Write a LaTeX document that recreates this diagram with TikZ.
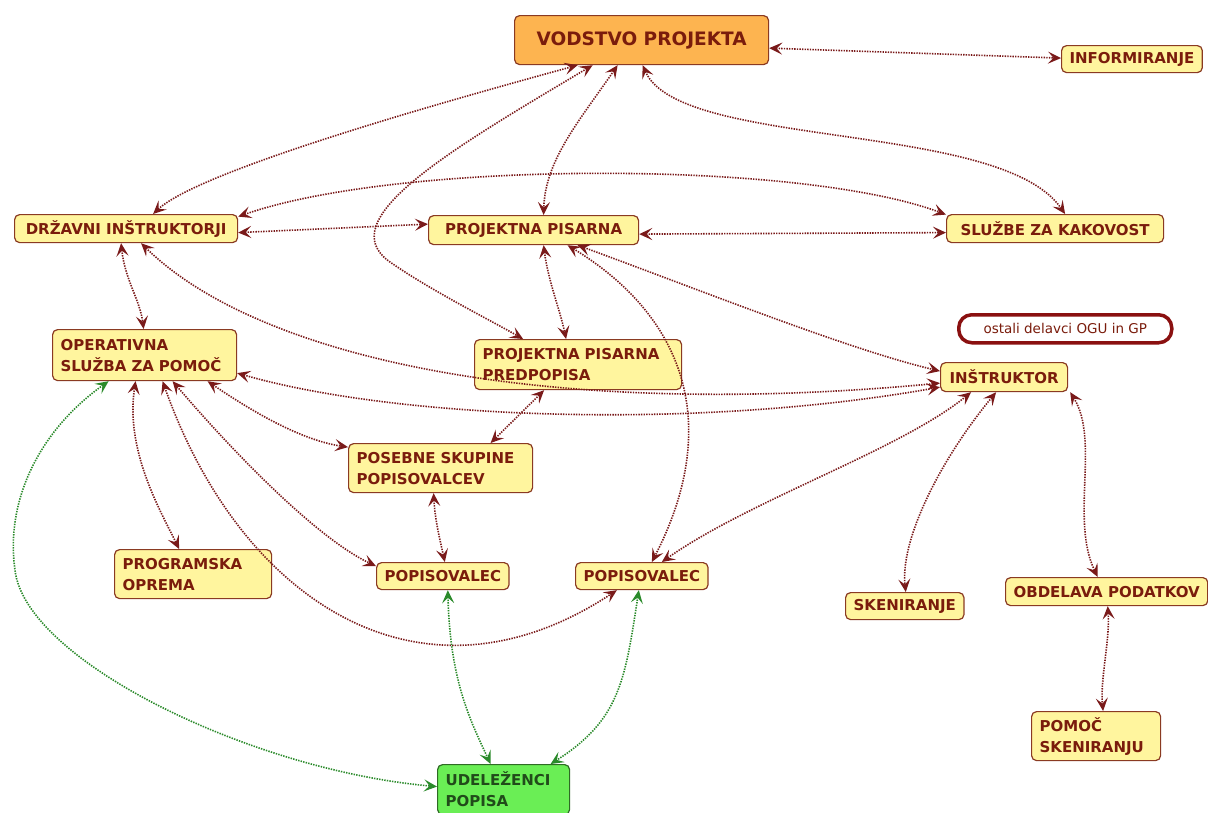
\documentclass[tikz,border=0pt]{standalone}
\usepackage{fontspec}
\setmainfont{DejaVu Sans}
\usetikzlibrary{arrows.meta,calc}

\definecolor{boxfill}{HTML}{FFF59E}
\definecolor{boxline}{HTML}{8A3A22}
\definecolor{txt}{HTML}{7A1C0C}
\definecolor{topfill}{HTML}{FDB450}
\definecolor{greenfill}{HTML}{6AEE55}
\definecolor{greenline}{HTML}{2F6B25}
\definecolor{lnk}{HTML}{7A1A1A}
\definecolor{glnk}{HTML}{2A8A2A}
\definecolor{ovalline}{HTML}{8A1010}

\tikzset{
  box/.style={draw=boxline, line width=1.2pt, rounded corners=5pt, fill=boxfill,
    text=txt, font=\bfseries\fontsize{15}{21}\selectfont,
    inner xsep=8pt, inner ysep=2pt, anchor=north west, align=left},
  topbox/.style={box, fill=topfill, font=\bfseries\fontsize{18.5}{24}\selectfont},
  greenbox/.style={box, fill=greenfill, draw=greenline, text=greenline!70!black},
  oval/.style={draw=ovalline, line width=3.5pt, rounded corners=13pt, fill=white,
    text=txt, font=\fontsize{13.5}{16}\selectfont, anchor=north west},
  link/.style={draw=lnk, line width=1.6pt, dash pattern=on 1.4pt off 1.2pt,
    >={Stealth[length=13pt,width=12pt,inset=5.5pt]}, <->},
  glink/.style={link, draw=glnk},
}

\begin{document}
\begin{tikzpicture}[x=1pt, y=-1pt]
\useasboundingbox (0,0) rectangle (1208,812);

% boxes
\node[topbox, minimum width=254pt, minimum height=49pt] (vod) at (514,15) {VODSTVO PROJEKTA};
\node[box, minimum width=140pt, minimum height=27pt] (inf) at (1061,45) {INFORMIRANJE};
\node[box, minimum width=223pt, minimum height=28pt] (dri) at (14,214) {DRŽAVNI INŠTRUKTORJI};
\node[box, minimum width=210pt, minimum height=29pt] (pp) at (428,215) {PROJEKTNA PISARNA};
\node[box, minimum width=217pt, minimum height=28pt] (szk) at (946,214) {SLUŽBE ZA KAKOVOST};
\node[oval, minimum width=213pt, minimum height=28pt] (ost) at (957,313) {ostali delavci OGU in GP};
\node[box, text width=168pt, minimum height=51pt] (ops) at (52,329) {OPERATIVNA\\SLUŽBA ZA POMOČ};
\node[box, text width=191pt, minimum height=50pt] (ppp) at (474,339) {PROJEKTNA PISARNA\\PREDPOPISA};
\node[box, minimum width=127pt, minimum height=29pt] (ins) at (940,362) {INŠTRUKTOR};
\node[box, text width=168pt, minimum height=49pt] (pos) at (348,443) {POSEBNE SKUPINE\\POPISOVALCEV};
\node[box, text width=141pt, minimum height=49pt] (pro) at (114,549) {PROGRAMSKA\\OPREMA};
\node[box, minimum width=131pt, minimum height=27pt] (pv1) at (376,562) {POPISOVALEC};
\node[box, minimum width=130pt, minimum height=27pt] (pv2) at (575,562) {POPISOVALEC};
\node[box, minimum width=117pt, minimum height=27pt] (ske) at (845,592) {SKENIRANJE};
\node[box, minimum width=202pt, minimum height=28pt] (obd) at (1005,577) {OBDELAVA PODATKOV};
\node[box, text width=113pt, minimum height=49pt] (pom) at (1031,711) {POMOČ\\SKENIRANJU};
\node[greenbox, text width=116pt, minimum height=50pt] (ude) at (437,764) {UDELEŽENCI\\POPISA};

% links from the project leadership
\draw[link] ([yshift=-8pt]vod.east) -- ([yshift=1pt]inf.west);
\draw[link] ([xshift=-64pt]vod.south) .. controls (450,100) and (200,170) .. ([xshift=27pt]dri.north);
\draw[link] ([xshift=-49pt]vod.south) .. controls (450,150) and (330,220) .. (390,262)
  .. controls (430,290) and (490,320) .. ([xshift=-55pt]ppp.north);
\draw[link] ([xshift=-24pt]vod.south) .. controls (580,120) and (545,160) .. ([xshift=10pt]pp.north);
\draw[link] ([xshift=1pt]vod.south) .. controls (680,150) and (1000,120) .. ([xshift=10pt]szk.north);

% national instructors and project office
\draw[link] ([yshift=12pt]dri.east) .. controls (400,160) and (800,160) .. ([yshift=14pt]szk.west);
\draw[link] ([yshift=-4pt]dri.east) -- ([yshift=6pt]pp.west);
\draw[link] ([yshift=-4pt]pp.east) -- ([yshift=-4pt]szk.west);
\draw[link] ([xshift=-5pt]dri.south) .. controls (125,280) and (140,300) .. ([xshift=-1pt]ops.north);
\draw[link] ([xshift=15pt]dri.south) .. controls (260,360) and (550,420) .. ([yshift=-6pt]ins.west);
\draw[link] ([yshift=-18pt]ops.east) .. controls (400,420) and (700,430) .. ([yshift=-10pt]ins.west);
\draw[link] ([xshift=10pt]pp.south) .. controls (548,280) and (560,310) .. ([xshift=-12pt]ppp.north);
\draw[link] ([xshift=34pt]pp.south) .. controls (690,320) and (720,430) .. ([xshift=10pt]pv2.north);
\draw[link] ([xshift=44pt]pp.south) .. controls (700,290) and (850,350) .. ([yshift=6pt]ins.west);
\draw[link] ([xshift=-34pt]ppp.south) -- ([xshift=50pt]pos.north);

% operational help desk
\draw[link] ([xshift=63pt]ops.south) .. controls (250,410) and (300,440) .. ([yshift=21pt]pos.west);
\draw[link] ([xshift=-9pt]ops.south) .. controls (125,450) and (160,510) .. ([xshift=-14pt]pro.north);
\draw[link] ([xshift=28pt]ops.south) .. controls (240,460) and (320,540) .. ([yshift=10pt]pv1.west);
\draw[link] ([xshift=18pt]ops.south) .. controls (240,600) and (420,720) .. ([xshift=-25pt]pv2.south);
\draw[glink] ([xshift=-36pt]ops.south) .. controls (40,430) and (5,500) .. (15,570)
  .. controls (25,660) and (250,770) .. ([yshift=3pt]ude.west);

% enumerators
\draw[link] ([xshift=-7pt]pos.south) .. controls (435,520) and (440,540) .. ([xshift=2pt]pv1.north);
\draw[glink] ([xshift=5pt]pv1.south) .. controls (450,680) and (470,720) .. ([xshift=-13pt]ude.north);
\draw[glink] ([xshift=-3pt]pv2.south) .. controls (625,680) and (620,720) .. ([xshift=47pt]ude.north);

% instructor
\draw[link] ([xshift=-33pt]ins.south) .. controls (900,450) and (750,500) .. ([xshift=20pt]pv2.north);
\draw[link] ([xshift=-8pt]ins.south) .. controls (940,460) and (900,540) .. ([xshift=1pt]ske.north);
\draw[link] ([xshift=2pt]ins.south east) .. controls (1100,440) and (1070,520) .. ([xshift=-9pt]obd.north);
\draw[link] ([xshift=1pt]obd.south) .. controls (1110,640) and (1100,680) .. ([xshift=7pt]pom.north);
\end{tikzpicture}
\end{document}
